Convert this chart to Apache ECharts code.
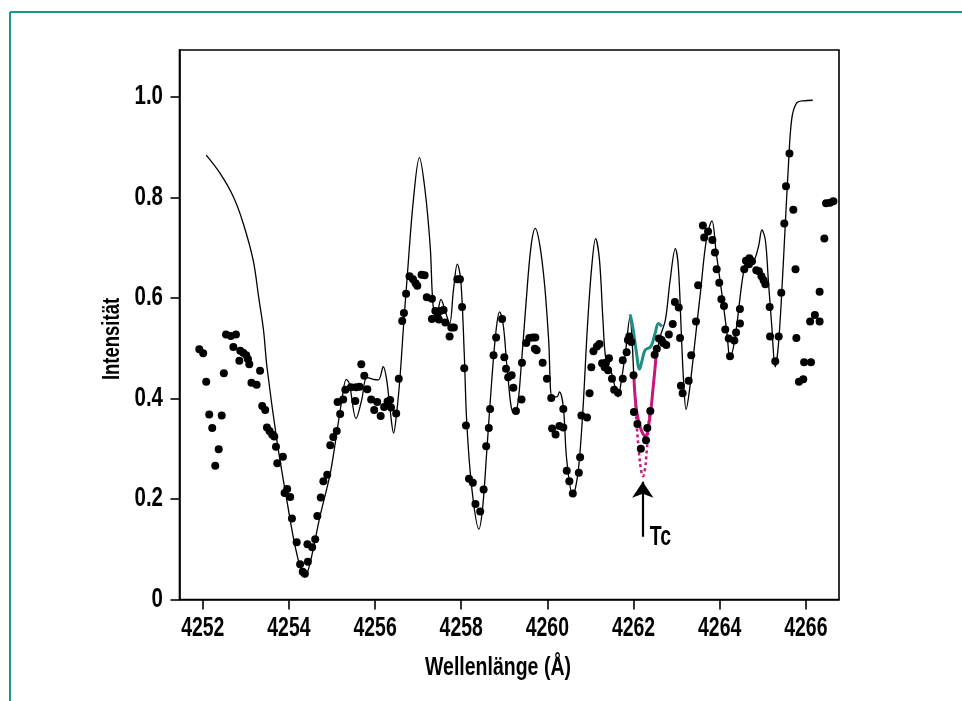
<!DOCTYPE html>
<html>
<head>
<meta charset="utf-8">
<title>Spektrum um 4262 Å</title>
<script src="https://cdn.jsdelivr.net/npm/echarts@6/dist/echarts.min.js"></script>
<style>
  html, body { margin: 0; padding: 0; background: #fff; }
  #chart { width: 962px; height: 701px; }
</style>
</head>
<body>
<div id="chart"></div>
<script>
// Axis ticks
const xTicks = [4252, 4254, 4256, 4258, 4260, 4262, 4264, 4266];
const yTicks = [0, 0.2, 0.4, 0.6, 0.8, 1.0];

// Observed spectrum: wavelength (Å) and relative intensity
const obsWl = [
  4251.92, 4252.01, 4252.08, 4252.15, 4252.22, 4252.29, 4252.37, 4252.44, 4252.49, 4252.54,
  4252.65, 4252.71, 4252.77, 4252.85, 4252.87, 4252.94, 4253.01, 4253.05, 4253.08, 4253.13,
  4253.25, 4253.33, 4253.38, 4253.45, 4253.49, 4253.55, 4253.61, 4253.66, 4253.70, 4253.73,
  4253.86, 4253.90, 4253.96, 4254.03, 4254.07, 4254.18, 4254.26, 4254.32, 4254.37, 4254.43,
  4254.44, 4254.54, 4254.61, 4254.66, 4254.74, 4254.80, 4254.89, 4254.96, 4255.03, 4255.11,
  4255.13, 4255.19, 4255.26, 4255.31, 4255.44, 4255.54, 4255.56, 4255.64, 4255.68, 4255.75,
  4255.82, 4255.91, 4255.98, 4256.05, 4256.13, 4256.21, 4256.29, 4256.35, 4256.37, 4256.49,
  4256.55, 4256.63, 4256.67, 4256.72, 4256.80, 4256.88, 4256.94, 4256.98, 4257.08, 4257.15,
  4257.20, 4257.32, 4257.40, 4257.45, 4257.51, 4257.59, 4257.32, 4257.48, 4257.63, 4257.77,
  4257.83, 4257.73, 4257.91, 4257.97, 4258.02, 4258.07, 4258.11, 4258.18, 4258.27, 4258.33,
  4258.44, 4258.52, 4258.58, 4258.64, 4258.67, 4258.75, 4258.81, 4258.95, 4259.00, 4259.04,
  4259.09, 4259.17, 4259.21, 4259.27, 4259.40, 4259.41, 4259.51, 4259.58, 4259.66, 4259.72,
  4259.71, 4259.75, 4259.89, 4259.99, 4260.09, 4260.37, 4260.11, 4260.19, 4260.28, 4260.37,
  4260.45, 4260.51, 4260.59, 4260.73, 4260.76, 4260.79, 4260.92, 4260.98, 4261.02, 4261.07,
  4261.15, 4261.21, 4261.27, 4261.36, 4261.43, 4261.33, 4261.41, 4261.50, 4261.55, 4261.64,
  4261.75, 4261.75, 4261.84, 4261.87, 4261.90, 4261.95, 4262.00, 4262.01, 4262.09, 4262.17,
  4262.29, 4262.32, 4262.39, 4262.49, 4262.54, 4262.59, 4262.65, 4262.69, 4262.76, 4262.82,
  4262.91, 4262.96, 4263.05, 4263.08, 4263.10, 4263.14, 4263.28, 4263.34, 4263.45, 4263.50,
  4263.61, 4263.64, 4263.73, 4263.83, 4263.89, 4263.93, 4263.99, 4264.04, 4264.10, 4264.13,
  4264.21, 4264.24, 4264.34, 4264.38, 4264.47, 4264.47, 4264.57, 4264.61, 4264.69, 4264.68,
  4264.75, 4264.85, 4264.91, 4264.97, 4265.02, 4265.06, 4265.16, 4265.17, 4265.37, 4265.29,
  4265.43, 4265.50, 4265.54, 4265.62, 4265.71, 4265.76, 4265.78, 4265.84, 4265.94, 4265.96,
  4266.12, 4266.10, 4266.21, 4266.32, 4266.32, 4266.43, 4266.47, 4266.56, 4266.64
];
const obsI = [
  0.498, 0.490, 0.433, 0.368, 0.341, 0.266, 0.299, 0.366, 0.450, 0.527,
  0.524, 0.502, 0.527, 0.475, 0.495, 0.491, 0.486, 0.478, 0.468, 0.431,
  0.427, 0.455, 0.385, 0.377, 0.342, 0.335, 0.328, 0.324, 0.304, 0.271,
  0.284, 0.212, 0.220, 0.204, 0.161, 0.114, 0.070, 0.055, 0.051, 0.110,
  0.075, 0.104, 0.120, 0.166, 0.203, 0.235, 0.248, 0.307, 0.323, 0.335,
  0.393, 0.369, 0.398, 0.417, 0.422, 0.395, 0.422, 0.423, 0.468, 0.445,
  0.418, 0.398, 0.377, 0.393, 0.365, 0.383, 0.394, 0.397, 0.382, 0.370,
  0.439, 0.554, 0.570, 0.608, 0.643, 0.637, 0.629, 0.624, 0.646, 0.645,
  0.601, 0.598, 0.574, 0.569, 0.574, 0.576, 0.558, 0.557, 0.551, 0.541,
  0.541, 0.523, 0.637, 0.637, 0.582, 0.460, 0.346, 0.240, 0.232, 0.190,
  0.175, 0.219, 0.305, 0.341, 0.379, 0.486, 0.521, 0.558, 0.482, 0.459,
  0.442, 0.446, 0.421, 0.375, 0.398, 0.471, 0.510, 0.520, 0.521, 0.521,
  0.499, 0.496, 0.471, 0.439, 0.401, 0.379, 0.340, 0.328, 0.345, 0.342,
  0.256, 0.235, 0.211, 0.252, 0.283, 0.366, 0.362, 0.410, 0.462, 0.494,
  0.503, 0.508, 0.470, 0.471, 0.480, 0.462, 0.456, 0.439, 0.417, 0.411,
  0.439, 0.476, 0.492, 0.516, 0.523, 0.512, 0.446, 0.373, 0.349, 0.300,
  0.317, 0.341, 0.375, 0.487, 0.499, 0.519, 0.516, 0.510, 0.506, 0.527,
  0.548, 0.592, 0.581, 0.520, 0.425, 0.410, 0.435, 0.486, 0.553, 0.625,
  0.744, 0.720, 0.732, 0.715, 0.690, 0.657, 0.630, 0.597, 0.584, 0.537,
  0.519, 0.484, 0.515, 0.531, 0.549, 0.578, 0.657, 0.674, 0.679, 0.667,
  0.673, 0.655, 0.653, 0.643, 0.635, 0.627, 0.582, 0.523, 0.523, 0.474,
  0.610, 0.748, 0.822, 0.887, 0.775, 0.657, 0.520, 0.433, 0.438, 0.472,
  0.472, 0.553, 0.566, 0.553, 0.612, 0.718, 0.788, 0.789, 0.792
];

// Synthetic spectrum (model fit)
const modelWl = [
  4252.08, 4252.40, 4252.71, 4252.94, 4253.17, 4253.30, 4253.41, 4253.49, 4253.72, 4253.95,
  4254.18, 4254.37, 4254.49, 4254.72, 4254.96, 4255.11, 4255.23, 4255.33, 4255.40, 4255.56,
  4255.69, 4255.81, 4255.96, 4256.08, 4256.19, 4256.27, 4256.35, 4256.43, 4256.50, 4256.58,
  4256.66, 4256.74, 4256.89, 4257.03, 4257.16, 4257.28, 4257.35, 4257.43, 4257.53, 4257.62,
  4257.73, 4257.82, 4257.91, 4257.99, 4258.07, 4258.13, 4258.25, 4258.41, 4258.50, 4258.59,
  4258.71, 4258.81, 4258.89, 4258.98, 4259.07, 4259.21, 4259.30, 4259.38, 4259.51, 4259.62,
  4259.72, 4259.83, 4259.94, 4260.03, 4260.11, 4260.22, 4260.28, 4260.37, 4260.45, 4260.59,
  4260.71, 4260.82, 4260.93, 4261.03, 4261.12, 4261.21, 4261.29, 4261.36, 4261.47, 4261.57,
  4261.64, 4261.72, 4261.81, 4261.92, 4261.97, 4262.01, 4262.06, 4262.15, 4262.27, 4262.37,
  4262.45, 4262.52, 4262.62, 4262.74, 4262.85, 4262.97, 4263.04, 4263.11, 4263.16, 4263.22,
  4263.30, 4263.43, 4263.56, 4263.69, 4263.82, 4263.92, 4264.05, 4264.17, 4264.24, 4264.36,
  4264.55, 4264.67, 4264.78, 4264.90, 4264.98, 4265.06, 4265.13, 4265.21, 4265.29, 4265.36,
  4265.44, 4265.52, 4265.59, 4265.67, 4265.78, 4265.94, 4266.16
];
const modelI = [
  0.884, 0.848, 0.801, 0.748, 0.675, 0.600, 0.536, 0.463, 0.317, 0.198,
  0.092, 0.045, 0.072, 0.165, 0.251, 0.331, 0.397, 0.438, 0.430, 0.360,
  0.397, 0.442, 0.438, 0.437, 0.463, 0.437, 0.377, 0.331, 0.370, 0.443,
  0.543, 0.635, 0.795, 0.879, 0.814, 0.702, 0.582, 0.569, 0.597, 0.576,
  0.549, 0.616, 0.667, 0.635, 0.490, 0.350, 0.218, 0.140, 0.185, 0.291,
  0.437, 0.536, 0.572, 0.543, 0.456, 0.372, 0.383, 0.450, 0.596, 0.702,
  0.738, 0.702, 0.622, 0.516, 0.403, 0.403, 0.413, 0.383, 0.277, 0.207,
  0.251, 0.370, 0.543, 0.662, 0.718, 0.675, 0.556, 0.476, 0.456, 0.423,
  0.403, 0.437, 0.490, 0.562, 0.510, 0.440, 0.383, 0.344, 0.325, 0.357,
  0.417, 0.480, 0.523, 0.556, 0.635, 0.698, 0.662, 0.529, 0.437, 0.378,
  0.417, 0.516, 0.616, 0.715, 0.753, 0.689, 0.609, 0.529, 0.480, 0.523,
  0.649, 0.682, 0.675, 0.702, 0.735, 0.715, 0.635, 0.543, 0.463, 0.503,
  0.609, 0.741, 0.854, 0.954, 0.987, 0.992, 0.993
];

// Wavelength window of the Tc line fitted in the model
const tcFrom = 4262.0;
const tcTo = 4262.53;

// Model without the Tc line
const noTcWl = [4261.92, 4261.98, 4262.06, 4262.14, 4262.20, 4262.27, 4262.40, 4262.50, 4262.58, 4262.66];
const noTcI  = [0.567, 0.543, 0.496, 0.458, 0.476, 0.496, 0.503, 0.529, 0.549, 0.543];

// Model with a stronger Tc line
const strongTcWl = [4262.04, 4262.08, 4262.13, 4262.18, 4262.22, 4262.27, 4262.31, 4262.35, 4262.38];
const strongTcI  = [0.400, 0.340, 0.290, 0.255, 0.245, 0.262, 0.300, 0.345, 0.380];

// Arrow marking the Tc line
const tcArrowWl = 4262.215;
const tcArrowI = [0.125, 0.234];

// Text
const xTitle = 'Wellenlänge (Å)';
const yTitle = 'Intensität';
const tcText = 'Tc';

const pairs = (xs, ys) => xs.map((x, i) => [x, ys[i]]);
const modelData = pairs(modelWl, modelI);
const tcData = modelData.filter(p => p[0] >= tcFrom && p[0] <= tcTo);

// Condensed bold lettering: Liberation Sans Bold squeezed horizontally
const FONT = '"Liberation Sans", Arial, sans-serif';
const TEAL = '#16998b';
const SQUEEZE = 0.72;

const chart = echarts.init(document.getElementById('chart'), null, { renderer: 'canvas' });

chart.setOption({
  backgroundColor: '#fff',
  animation: false,
  grid: {
    left: 179.5, top: 50, right: 123, bottom: 101.5,
    show: true, borderColor: '#000', borderWidth: 1.6, backgroundColor: 'transparent'
  },
  xAxis: {
    type: 'value',
    min: 4251.46, max: 4266.77,
    axisLine: { show: true, lineStyle: { color: '#000', width: 1.6 } },
    axisTick: { show: true, length: 10, inside: false, customValues: xTicks, lineStyle: { color: '#000', width: 1.6 } },
    axisLabel: { show: false },
    splitLine: { show: false }
  },
  yAxis: {
    type: 'value',
    min: 0, max: 1.093,
    axisLine: { show: true, lineStyle: { color: '#000', width: 1.6 } },
    axisTick: { show: true, length: 9, inside: false, customValues: yTicks, lineStyle: { color: '#000', width: 1.6 } },
    axisLabel: { show: false },
    splitLine: { show: false }
  },
  series: [
    {
      name: 'Modell',
      type: 'line',
      data: modelData,
      smooth: 0.35,
      showSymbol: false,
      lineStyle: { color: '#000', width: 1.3 },
      z: 2
    },
    {
      name: 'ohne Tc',
      type: 'line',
      data: pairs(noTcWl, noTcI),
      smooth: 0.4,
      showSymbol: false,
      lineStyle: { color: '#1f8f86', width: 3 },
      z: 3
    },
    {
      name: 'Tc',
      type: 'line',
      data: tcData,
      smooth: 0.4,
      showSymbol: false,
      lineStyle: { color: '#c7177e', width: 3 },
      z: 4
    },
    {
      name: 'Tc stark',
      type: 'line',
      data: pairs(strongTcWl, strongTcI),
      smooth: 0.4,
      showSymbol: false,
      lineStyle: { color: '#c7177e', width: 2.5, type: [3, 3] },
      z: 4
    },
    {
      name: 'Beobachtung',
      type: 'scatter',
      data: pairs(obsWl, obsI),
      symbol: 'circle',
      symbolSize: 8,
      itemStyle: { color: '#000', opacity: 1 },
      z: 6
    },
    {
      name: 'Pfeil',
      type: 'lines',
      coordinateSystem: 'cartesian2d',
      data: [{ coords: [[tcArrowWl, tcArrowI[0]], [tcArrowWl, tcArrowI[1]]] }],
      symbol: ['none', 'arrow'],
      symbolSize: [11, 16],
      lineStyle: { color: '#000', width: 2.2, opacity: 1 },
      z: 7
    }
  ]
});

// Tick labels and titles, placed with the axis scales
function squeezedText(x, y, text, size, align, extra) {
  return Object.assign({
    type: 'text',
    x: x, y: y,
    scaleX: SQUEEZE, scaleY: 1,
    style: {
      text: text, x: 0, y: 0,
      fill: '#000', font: 'bold ' + size + 'px ' + FONT,
      align: align, verticalAlign: 'middle'
    },
    z: 10
  }, extra || {});
}

const labels = [];
xTicks.forEach(v => {
  const px = chart.convertToPixel({ xAxisIndex: 0 }, v);
  labels.push(squeezedText(px, 629, String(v), 27, 'center'));
});
yTicks.forEach(v => {
  const py = chart.convertToPixel({ yAxisIndex: 0 }, v);
  labels.push(squeezedText(163, py, v === 0 ? '0' : v.toFixed(1), 27, 'right', { scaleX: 0.76 }));
});
const tcPt = chart.convertToPixel({ xAxisIndex: 0, yAxisIndex: 0 }, [tcArrowWl, tcArrowI[0]]);
labels.push(squeezedText(tcPt[0] + 7, tcPt[1] + 1, tcText, 27, 'left'));

labels.push(squeezedText(498, 668, xTitle, 26, 'center', { scaleX: 0.75 }));
labels.push(squeezedText(112, 339, yTitle, 24, 'center', { rotation: Math.PI / 2, scaleX: 0.77 }));

chart.setOption({
  graphic: [
    { type: 'line', shape: { x1: 10, y1: 12, x2: 962, y2: 12 }, style: { stroke: TEAL, lineWidth: 2 } },
    { type: 'line', shape: { x1: 10, y1: 12, x2: 10, y2: 701 }, style: { stroke: TEAL, lineWidth: 2 } }
  ].concat(labels)
});
</script>
</body>
</html>
